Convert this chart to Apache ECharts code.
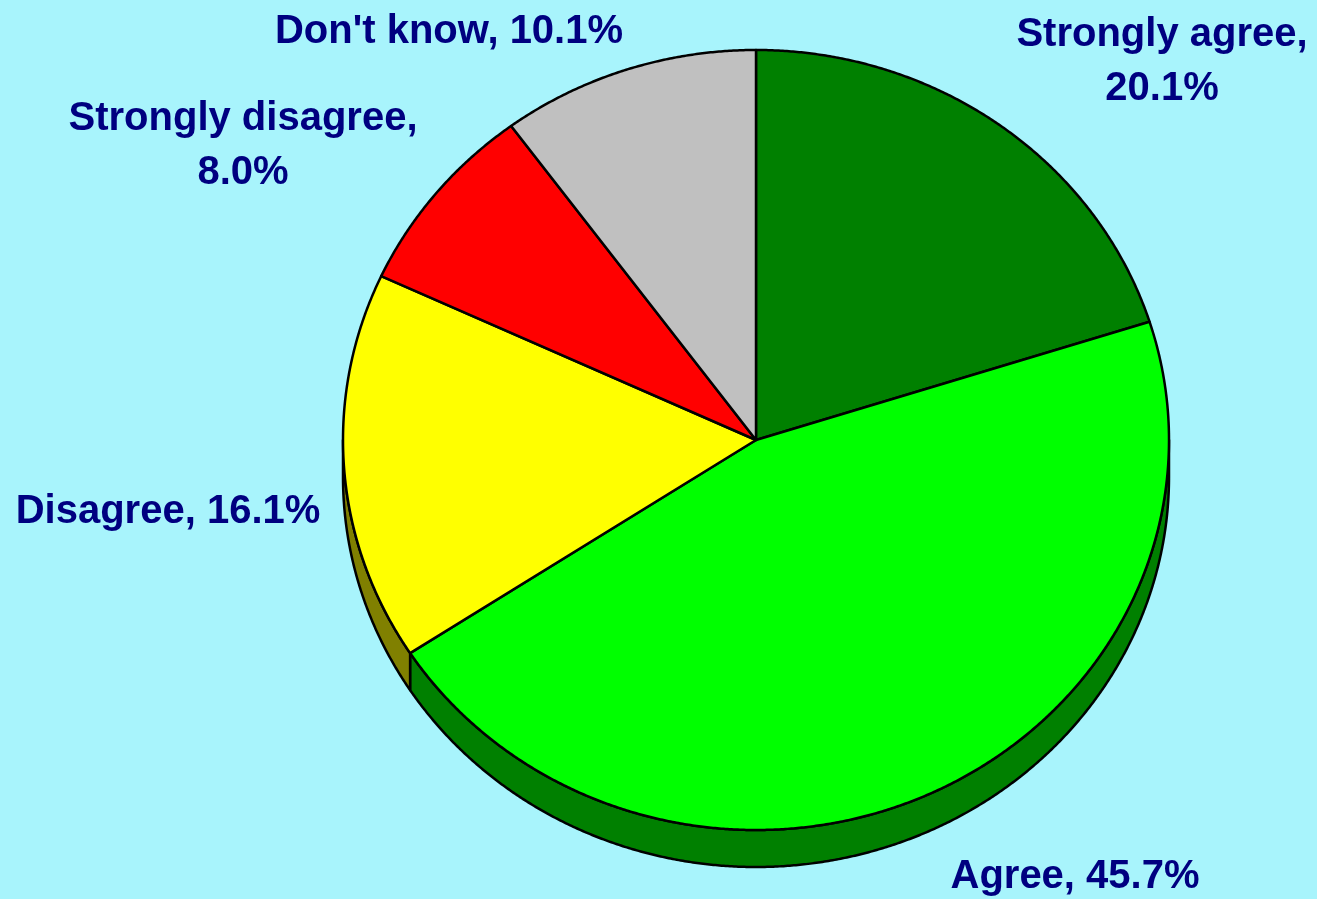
<!DOCTYPE html>
<html><head><meta charset="utf-8">
<script src="https://cdn.jsdelivr.net/npm/echarts@6/dist/echarts.min.js"></script>
<style>html,body{margin:0;padding:0;background:#A8F4FC}#c{width:1317px;height:899px}</style>
</head><body><div id="c"></div>
<script>
// ---- data ----
const categories = ['Strongly agree', 'Agree', 'Disagree', 'Strongly disagree', "Don't know"];
const values = [20.1, 45.7, 16.1, 8.0, 10.1];
const wrapLabel = [true, false, false, true, false];

// ---- styles / layout ----
const topColors = ['#008000', '#00FF00', '#FFFF00', '#FF0000', '#C0C0C0'];
const sideColors = ['#005000', '#008000', '#808000', '#800000', '#808080'];
const labelPos = [[1162, 62], [1075, 877], [168, 512], [243, 146], [449, 32]];
const G = { cx: 756, cy: 440, rx: 413, ry: 390, depth: 37 };

const total = values.reduce((a, b) => a + b, 0);
const starts = [];
(function () { let acc = 0; values.forEach(v => { starts.push(acc); acc += v; }); })();

function arcPts(a0, a1, dy) {
  const n = Math.max(2, Math.ceil((a1 - a0) / 0.005));
  const pts = [];
  for (let i = 0; i <= n; i++) {
    const a = a0 + (a1 - a0) * i / n;
    pts.push([G.cx + G.rx * Math.sin(a), G.cy - G.ry * Math.cos(a) + dy]);
  }
  return pts;
}
function angles(i, api) {
  const v = api.value(1);
  const a0 = starts[i] / total * 2 * Math.PI;
  const a1 = (starts[i] + v) / total * 2 * Math.PI;
  return [a0, a1];
}

const chart = echarts.init(document.getElementById('c'), null, { renderer: 'canvas' });
const seriesData = values.map((v, i) => ({ name: categories[i], value: [i, v] }));

chart.setOption({
  backgroundColor: '#A8F4FC',
  animation: false,
  series: [
    {
      type: 'custom', coordinateSystem: 'none', z: 1, silent: true,
      data: seriesData,
      renderItem: function (params, api) {
        const i = params.dataIndex;
        const [a0, a1] = angles(i, api);
        const s0 = Math.max(a0, Math.PI / 2), s1 = Math.min(a1, 3 * Math.PI / 2);
        if (s1 <= s0) return { type: 'group', children: [] };
        const pts = arcPts(s0, s1, 0).concat(arcPts(s0, s1, G.depth).reverse());
        return {
          type: 'polygon',
          shape: { points: pts },
          style: { fill: sideColors[i], stroke: '#000', lineWidth: 2.5, lineJoin: 'round' }
        };
      }
    },
    {
      type: 'custom', coordinateSystem: 'none', z: 2, silent: true,
      data: seriesData,
      renderItem: function (params, api) {
        const i = params.dataIndex;
        const [a0, a1] = angles(i, api);
        const pts = [[G.cx, G.cy]].concat(arcPts(a0, a1, 0));
        const name = categories[i];
        const pct = api.value(1).toFixed(1) + '%';
        const txt = name + ',' + (wrapLabel[i] ? '\n' : ' ') + pct;
        return {
          type: 'group',
          children: [
            {
              type: 'polygon',
              shape: { points: pts },
              style: { fill: topColors[i], stroke: '#000', lineWidth: 2.5, lineJoin: 'round' }
            },
            {
              type: 'text',
              x: labelPos[i][0], y: labelPos[i][1],
              style: {
                text: txt, fill: '#000080',
                fontFamily: '"Liberation Sans", Arial, sans-serif',
                fontWeight: 'bold', fontSize: 40, lineHeight: 54,
                align: 'center', verticalAlign: 'middle'
              }
            }
          ]
        };
      }
    }
  ]
});
</script>
</body></html>
